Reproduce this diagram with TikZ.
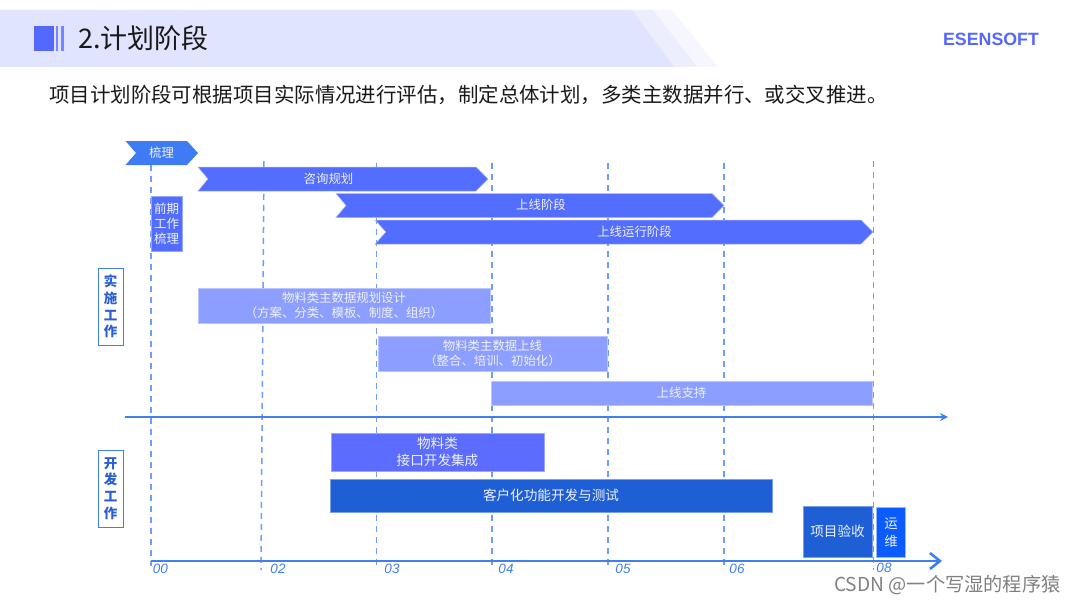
\documentclass[tikz,border=0pt]{standalone}
\usepackage{fontspec}
\setmainfont{Noto Sans CJK SC}
\newfontfamily\latinfont{Liberation Sans}
\usetikzlibrary{arrows.meta}
\definecolor{bandA}{HTML}{E0E4FE}
\definecolor{bandB}{HTML}{ECEEFE}
\definecolor{bandC}{HTML}{F5F6FF}
\definecolor{iconblue}{HTML}{5468FF}
\definecolor{chev}{HTML}{536DFE}
\definecolor{chevtop}{HTML}{3F7BF5}
\definecolor{lightbar}{HTML}{8C9EFF}
\definecolor{midbar}{HTML}{5B6CFF}
\definecolor{darkbar}{HTML}{1F5FD6}
\definecolor{opsbar}{HTML}{0A5CFF}
\definecolor{axisblue}{HTML}{3F7FEF}
\definecolor{dashblue}{HTML}{6E9EF6}
\definecolor{sidetext}{HTML}{2A5FCF}
\definecolor{txtlight}{HTML}{EEF1FF}
\tikzset{
  x=1pt,y=-1pt,
  lbl/.style={inner sep=0pt,align=center,text=txtlight,font=\fontsize{12.4}{14.5}\selectfont},
  lblbig/.style={inner sep=0pt,align=center,text=txtlight,font=\fontsize{13.6}{16.5}\selectfont},
  lblsmall/.style={lbl,font=\fontsize{12.5}{15}\selectfont},
  chevron/.style={fill=chev,draw=chev!50!white,line width=.5pt},
  barbox/.style={fill=#1,draw=#1!60!white,line width=.5pt},
  sidebox/.style={draw=axisblue,fill=white,line width=.8pt,inner sep=0pt,minimum width=25pt,align=center,text=sidetext,font=\fontsize{13.5}{16.7}\selectfont\bfseries},
  vdash/.style={draw=dashblue,line width=1.5pt,dash pattern=on 6pt off 5pt},
  axisline/.style={draw=axisblue,line width=#1},
  tick/.style={inner sep=0pt,text=axisblue,font=\latinfont\itshape\fontsize{13.5}{13.5}\selectfont},
}
\begin{document}
\begin{tikzpicture}
\useasboundingbox (0,0) rectangle (1080,602);
% header band
\fill[bandC] (0,10) -- (672,10) -- (718,67) -- (0,67) -- cycle;
\fill[bandB] (0,10) -- (653,10) -- (697,67) -- (0,67) -- cycle;
\fill[bandA] (0,10) -- (632,10) -- (674,67) -- (0,67) -- cycle;
\fill[iconblue] (34,26) rectangle (54,51);
\fill[iconblue!80!white] (56,26) rectangle (58,51);
\fill[iconblue!80!white] (61,26) rectangle (63.5,51);
\node[anchor=west,inner sep=0pt,text=black!90,font=\fontsize{27}{31}\selectfont] (title) at (78,38) {2.计划阶段};
\node[inner sep=0pt,text=iconblue,font=\latinfont\bfseries\fontsize{17.8}{20}\selectfont] (brand) at (991,39) {ESENSOFT};
\node[anchor=west,inner sep=0pt,text=black!90,font=\fontsize{20.45}{24}\selectfont] (intro) at (49,95) {项目计划阶段可根据项目实际情况进行评估，制定总体计划，多类主数据并行、或交叉推进。};
% time grid
\foreach \n/\xa/\ya/\xb/\yb in {a/151/165/151/566, b/264/161/261/570, c/376.5/163/376.5/570, d/492/163/492/570, e/608/163/608/570, f/724/163/724/570, g/873.5/161/873.5/570}{
  \coordinate (\n top) at (\xa,\ya);
  \coordinate (\n bot) at (\xb,\yb);
  \draw[vdash] (\n top) -- (\n bot);
}
% axes
\coordinate (axisAs) at (125,417);
\coordinate (axisAe) at (948,417);
\coordinate (axisBs) at (151,561);
\coordinate (axisBe) at (942,561);
\draw[axisline=2pt,-{Stealth[length=8pt,width=8pt]}] (axisAs) -- (axisAe);
\draw[axisline=2.6pt,-{Straight Barb[length=10pt,width=16pt,line width=2.6pt]}] (axisBs) -- (axisBe);
% chevrons
\fill[chevtop] (125.5,141) -- (187,141) -- (198,153) -- (187,165) -- (125.5,165) -- (136,153) -- cycle;
\node[lbl] (sort) at (161.5,153) {梳理};
\filldraw[chevron] (198,167) -- (476,167) -- (488,179) -- (476,191) -- (198,191) -- (208,179) -- cycle;
\node[lbl] (consult) at (328.5,179) {咨询规划};
\filldraw[chevron] (336,193.5) -- (712,193.5) -- (724,205.5) -- (712,217.5) -- (336,217.5) -- (346,205.5) -- cycle;
\node[lbl] (golive) at (541,204.5) {上线阶段};
\filldraw[chevron] (375,220) -- (861,220) -- (873,232) -- (861,244) -- (375,244) -- (386,232) -- cycle;
\node[lbl] (run) at (634.5,232) {上线运行阶段};
% boxes
\node[barbox=chev,lblsmall,minimum width=31pt,minimum height=55pt] (early) at (166.5,223.5) {前期\\工作\\梳理};
\node[sidebox,minimum height=77pt] (impl) at (110.5,306.5) {实\\施\\工\\作};
\node[sidebox,minimum height=77pt] (dev) at (110.5,488.5) {开\\发\\工\\作};
\node[barbox=lightbar,lbl,minimum width=292pt,minimum height=35pt] (plan) at (344,305.5) {物料类主数据规划设计\\（方案、分类、模板、制度、组织）};
\node[barbox=lightbar,lbl,minimum width=229pt,minimum height=35pt] (online) at (492.5,353.5) {物料类主数据上线\\（整合、培训、初始化）};
\node[barbox=lightbar,lbl,minimum width=381pt,minimum height=24pt] (support) at (681.5,393) {上线支持};
\node[barbox=midbar,lblbig,minimum width=213pt,minimum height=38pt] (iface) at (437.5,452) {物料类\\接口开发集成};
\node[barbox=darkbar,lblbig,minimum width=442pt,minimum height=33pt] (custom) at (551,495.5) {客户化功能开发与测试};
\node[barbox=darkbar,lblbig,minimum width=69pt,minimum height=51pt] (accept) at (837.5,531.5) {项目验收};
\node[fill=opsbar,draw=opsbar!45!white,line width=1.2pt,lblbig,minimum width=29pt,minimum height=50pt,font=\fontsize{13.5}{17.5}\selectfont] (ops) at (891,532.5) {运\\维};
% tick labels
\node[tick] (t00) at (160.5,568.5) {00};
\node[tick] (t02) at (278,568.5) {02};
\node[tick] (t03) at (392,568.5) {03};
\node[tick] (t04) at (506,568.5) {04};
\node[tick] (t05) at (623,568.5) {05};
\node[tick] (t06) at (737,568.5) {06};
\node[tick] (t08) at (884,567.5) {08};
% watermark
\node[anchor=base west,inner sep=0pt,text height=14pt,text depth=2pt,text=black!50,font=\fontsize{19.2}{22}\selectfont] (mark) at (834,591) {CSDN @一个写湿的程序猿};
\end{tikzpicture}
\end{document}
